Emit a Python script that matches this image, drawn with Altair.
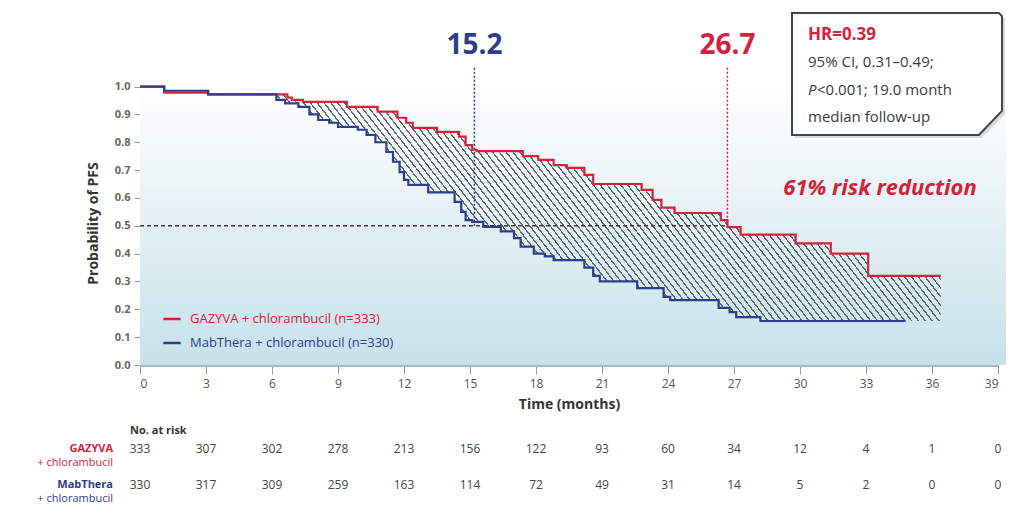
import math
import altair as alt
import pandas as pd

# ------------------------------------------------------------------ data
month_ticks = list(range(0, 40, 3))
y_ticks = [round(i * 0.1, 1) for i in range(11)]

gazyva_t = [0, 1.1, 3.1, 6.7, 6.9, 7.4, 9.4, 10.8, 11.7, 12.1, 12.4, 13.5, 14.5, 14.8,
            15.1, 15.3, 17.4, 18.1, 18.8, 19.4, 20.2, 20.6, 22.8, 23.3, 23.7, 24.3,
            26.4, 26.7, 27.3, 29.8, 31.4, 33.1, 36.4]
gazyva_s = [1.0, 0.978, 0.972, 0.96, 0.952, 0.945, 0.927, 0.91, 0.888, 0.87, 0.852, 0.837,
            0.82, 0.79, 0.773, 0.768, 0.75, 0.737, 0.718, 0.708, 0.683, 0.65, 0.629,
            0.593, 0.565, 0.546, 0.52, 0.495, 0.468, 0.437, 0.40, 0.32, 0.32]

mab_t = [0, 1.1, 3.1, 6.2, 6.6, 7.2, 7.7, 8.1, 8.6, 9.0, 9.9, 10.3, 10.7, 11.2, 11.5,
         11.8, 12.0, 12.2, 13.1, 14.3, 14.6, 14.8, 15.1, 15.6, 16.4, 17.0, 17.3, 17.9,
         18.4, 18.8, 20.2, 20.6, 20.9, 22.6, 23.8, 24.1, 26.3, 26.8, 27.1, 28.2, 34.8]
mab_s = [1.0, 0.985, 0.972, 0.952, 0.94, 0.927, 0.90, 0.88, 0.87, 0.855, 0.845, 0.826,
         0.80, 0.765, 0.73, 0.693, 0.665, 0.647, 0.62, 0.586, 0.55, 0.52, 0.514, 0.496,
         0.48, 0.456, 0.425, 0.40, 0.39, 0.377, 0.35, 0.32, 0.30, 0.276, 0.245, 0.233,
         0.205, 0.19, 0.172, 0.158, 0.158]

risk_gazyva = [333, 307, 302, 278, 213, 156, 122, 93, 60, 34, 12, 4, 1, 0]
risk_mab = [330, 317, 309, 259, 163, 114, 72, 49, 31, 14, 5, 2, 0, 0]

medians = [15.2, 26.7]
median_labels = ["15.2", "26.7"]

G_LABEL = "GAZYVA + chlorambucil (n=333)"
M_LABEL = "MabThera + chlorambucil (n=330)"

# ------------------------------------------------------------------ style
RED = "#d2233b"
BLUE = "#2b3d8c"
DARK = "#3a3a3a"
FONT = "Open Sans"
W, H = 858, 284
XMAX, YMAX = 39, 1.02

xscale = alt.Scale(domain=[0, XMAX], nice=False, zero=False)
yscale = alt.Scale(domain=[0, YMAX], nice=False)

x_axis = alt.Axis(values=month_ticks, grid=False, tickSize=9, labelPadding=4,
                  tickColor="#9a9a9a", domainColor="#a5bcc5", domainWidth=3,
                  labelFont=FONT, labelFontSize=12, labelColor="#555",
                  labelOverlap=False,
                  titleFont=FONT, titleFontSize=14, titleFontWeight="bold",
                  titleColor="#333", titlePadding=8)
y_axis = alt.Axis(values=y_ticks, format=".1f", grid=False, tickSize=6,
                  labelPadding=4, tickColor="#9a9a9a", domainColor="#9a9a9a",
                  labelOverlap=False, labelSeparation=0, tickCount=11,
                  labelFont=FONT, labelFontSize=11, labelFontWeight="bold",
                  labelColor="#666", titleFont=FONT, titleFontSize=14,
                  titleFontWeight="bold", titleColor="#333", titlePadding=14)


def X(field):
    return alt.X(field, scale=xscale, title="Time (months)", axis=x_axis)


def Y(field):
    return alt.Y(field, scale=yscale, title="Probability of PFS", axis=y_axis)


lines_df = pd.concat([
    pd.DataFrame({"t": gazyva_t, "s": gazyva_s, "series": G_LABEL}),
    pd.DataFrame({"t": mab_t, "s": mab_s, "series": M_LABEL}),
])


def step_val(ts, ss, t):
    v = ss[0]
    for ti, si in zip(ts, ss):
        if ti <= t + 1e-9:
            v = si
    return v


t_start = mab_t[3]
t_end = gazyva_t[-1]
area_t = sorted(set(t for t in gazyva_t + mab_t if t_start <= t <= t_end))
area_df = pd.DataFrame({
    "t": area_t,
    "s": [step_val(gazyva_t, gazyva_s, t) for t in area_t],
    "s2": [step_val(mab_t, mab_s, t) for t in area_t],
})

# hatch pattern built as a striped linear gradient over the area's bounding box
w_px = (t_end - t_start) * W / XMAX
h_px = (area_df["s"].max() - area_df["s2"].min()) * H / YMAX
theta = math.radians(52)
a = math.sin(theta) / h_px
b = math.cos(theta) / w_px
k = (a + b) / (a * a + b * b)
extent = w_px * math.sin(theta) + h_px * math.cos(theta)
n_stripes = int(round(extent / 5.4))
line_frac = 0.24
HATCH = "#5b6a68"
stops = []
for i in range(n_stripes):
    o0 = i / n_stripes
    o1 = (i + 1 - line_frac) / n_stripes
    o2 = (i + 1) / n_stripes
    stops += [
        alt.GradientStop(offset=o0, color="rgba(0,0,0,0)"),
        alt.GradientStop(offset=o1, color="rgba(0,0,0,0)"),
        alt.GradientStop(offset=o1, color=HATCH),
        alt.GradientStop(offset=o2, color=HATCH),
    ]
hatch = alt.Gradient(gradient="linear", x1=0, y1=1, x2=k * a, y2=1 - k * b, stops=stops)

one = pd.DataFrame({"a": [0]})

# ------------------------------------------------------------------ layers
bg = alt.Chart(one).mark_rect(
    color=alt.Gradient(
        gradient="linear", x1=0, y1=0, x2=0, y2=1,
        stops=[alt.GradientStop(offset=0, color="#ffffff"),
               alt.GradientStop(offset=0.25, color="#f2f8fa"),
               alt.GradientStop(offset=1, color="#c6e1ea")],
    )
).encode(x=alt.value(0), x2=alt.value(W + 8), y=alt.value(0), y2=alt.value(H))

area = alt.Chart(area_df).mark_area(interpolate="step-after", color=hatch).encode(
    x=X("t:Q"), y=Y("s:Q"), y2="s2:Q",
)

half = alt.Chart(one).mark_rule(color=DARK, strokeDash=[4, 3], strokeWidth=1.5).encode(
    x=alt.datum(0), x2=alt.datum(medians[1]), y=alt.datum(0.5)
)

med_b = alt.Chart(one).mark_rule(color=BLUE, strokeDash=[2, 2], strokeWidth=1.5).encode(
    x=alt.datum(medians[0]), y=alt.datum(0.5), y2=alt.value(-14)
)
med_r = alt.Chart(one).mark_rule(color=RED, strokeDash=[2, 2], strokeWidth=1.5).encode(
    x=alt.datum(medians[1]), y=alt.datum(0.5), y2=alt.value(-14)
)

lines = alt.Chart(lines_df).mark_line(interpolate="step-after", strokeWidth=2.2).encode(
    x=X("t:Q"),
    y=Y("s:Q"),
    color=alt.Color("series:N",
                    scale=alt.Scale(domain=[G_LABEL, M_LABEL], range=[RED, BLUE]),
                    legend=alt.Legend(
                        title=None, orient="none", legendX=22, legendY=228,
                        symbolType="stroke", symbolStrokeWidth=2.5, symbolSize=300,
                        labelFont=FONT, labelFontSize=13, labelLimit=400, labelOffset=8,
                        rowPadding=7,
                        labelColor={"expr": f"indexof(datum.label, 'GAZYVA') >= 0 ? '{RED}' : '{BLUE}'"},
                    )),
)


def label(text, x, y, size, color, weight="normal", style="normal", align="left", xdatum=False):
    enc_x = alt.datum(x) if xdatum else alt.value(x)
    return alt.Chart(one).mark_text(
        text=text, font=FONT, fontSize=size, color=color, fontWeight=weight,
        fontStyle=style, align=align, baseline="middle",
    ).encode(x=enc_x, y=alt.value(y))


t152 = label(median_labels[0], medians[0], -35, 28, BLUE, "bold", align="center", xdatum=True)
t267 = label(median_labels[1], medians[1], -35, 28, RED, "bold", align="center", xdatum=True)
risk_red = label("61% risk reduction", 740, 107, 22, RED, "bold", "italic", align="center")

box_path = "M -1 -0.581 L 0.97 -0.581 L 1 -0.55 L 1 0.352 L 0.78 0.581 L -1 0.581 Z"
box_shadow = alt.Chart(one).mark_point(
    shape=box_path, size=44100, filled=True, fill="#d9dcdd", strokeWidth=0, opacity=1
).encode(x=alt.value(760), y=alt.value(-4))
box = alt.Chart(one).mark_point(
    shape=box_path, size=44100, filled=True, fill="white", stroke="#444",
    strokeWidth=2, opacity=1
).encode(x=alt.value(757), y=alt.value(-7))

hr1 = label("HR=0.39", 668, -46, 17, RED, "bold")
hr2 = label("95% CI, 0.31\u20130.49;", 668, -19, 15, DARK)
hr3a = label("P", 668, 9, 15, DARK, style="italic")
hr3b = label("<0.001; 19.0 month", 677, 9, 15, DARK)
hr4 = label("median follow-up", 668, 36, 15, DARK)

ROW_G, ROW_M = 368, 404
risk_df = pd.DataFrame({"t": month_ticks, "g": risk_gazyva, "m": risk_mab})
row_g = alt.Chart(risk_df).mark_text(font=FONT, fontSize=12, color="#444", baseline="middle").encode(
    x=X("t:Q"), y=alt.value(ROW_G), text="g:Q")
row_m = alt.Chart(risk_df).mark_text(font=FONT, fontSize=12, color="#444", baseline="middle").encode(
    x=X("t:Q"), y=alt.value(ROW_M), text="m:Q")

no_risk = label("No. at risk", -10, 350, 11, "#333", "bold")
lg1 = label("GAZYVA", -27, ROW_G, 11, RED, "bold", align="right")
lg2 = label("+ chlorambucil", -27, ROW_G + 14, 11, RED, align="right")
lm1 = label("MabThera", -27, ROW_M, 11, BLUE, "bold", align="right")
lm2 = label("+ chlorambucil", -27, ROW_M + 14, 11, BLUE, align="right")

chart = alt.layer(
    bg, area, half, med_b, med_r, lines, t152, t267, risk_red,
    box_shadow, box, hr1, hr2, hr3a, hr3b, hr4,
    row_g, row_m, no_risk, lg1, lg2, lm1, lm2,
).properties(
    width=W, height=H,
    autosize=alt.AutoSizeParams(type="none"),
    padding={"left": 132, "top": 73, "right": 8, "bottom": 141},
).configure_view(stroke=None)

chart.save("out.html", embed_options={"renderer": "svg", "actions": False})
